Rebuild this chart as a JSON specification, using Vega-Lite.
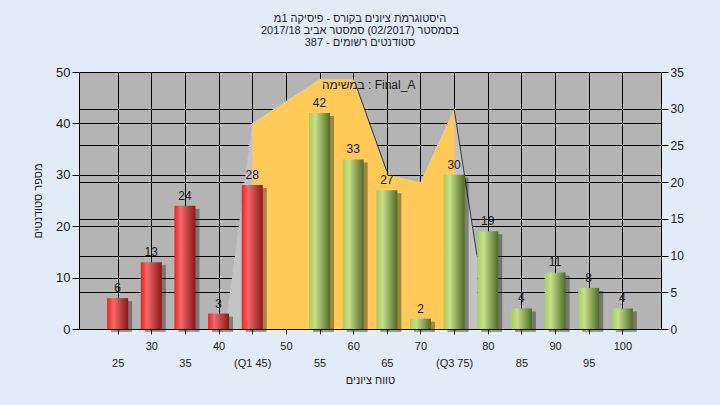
{
  "$schema": "https://vega.github.io/schema/vega-lite/v6.json",
  "width": 582,
  "height": 257,
  "autosize": {"type": "none"},
  "padding": {"left": 79, "top": 72, "right": 59, "bottom": 76},
  "background": "#e2ecf8",
  "config": {
    "view": {"fill": "#b4b4b4", "stroke": "#000000", "strokeWidth": 1},
    "font": "Liberation Sans",
    "axis": {"gridColor": "#000000", "gridOpacity": 1, "gridWidth": 1, "domainColor": "#000000", "tickColor": "#000000", "labelColor": "#1a1a1a", "titleColor": "#1a1a1a", "titleFontWeight": "normal", "titleFontSize": 11}
  },
  "title": {
    "text": ["היסטוגרמת ציונים בקורס - פיסיקה 1מ", "בסמסטר  (02/2017)  סמסטר אביב 2017/18", "סטודנטים רשומים - 387"],
    "fontSize": 11,
    "fontWeight": "normal",
    "lineHeight": 12,
    "color": "#1c1c3c",
    "anchor": "middle",
    "offset": 18,
    "dx": -10
  },
  "datasets": {
    "bars": [
      {"x": 25, "n": 6, "g": "low"},
      {"x": 30, "n": 13, "g": "low"},
      {"x": 35, "n": 24, "g": "low"},
      {"x": 40, "n": 3, "g": "low"},
      {"x": 45, "n": 28, "g": "low"},
      {"x": 55, "n": 42, "g": "high"},
      {"x": 60, "n": 33, "g": "high"},
      {"x": 65, "n": 27, "g": "high"},
      {"x": 70, "n": 2, "g": "high"},
      {"x": 75, "n": 30, "g": "high"},
      {"x": 80, "n": 19, "g": "high"},
      {"x": 85, "n": 4, "g": "high"},
      {"x": 90, "n": 11, "g": "high"},
      {"x": 95, "n": 8, "g": "high"},
      {"x": 100, "n": 4, "g": "high"}
    ],
    "final": [
      {"x": 45, "v": 28},
      {"x": 50, "v": 31},
      {"x": 55, "v": 34},
      {"x": 60, "v": 34},
      {"x": 65, "v": 21},
      {"x": 70, "v": 20},
      {"x": 75, "v": 30}
    ],
    "side": [
      {"x": 41, "v": 0},
      {"x": 45, "v": 28},
      {"x": 50, "v": 31},
      {"x": 55, "v": 34},
      {"x": 60, "v": 34},
      {"x": 65, "v": 21},
      {"x": 70, "v": 20},
      {"x": 75, "v": 30},
      {"x": 78.4, "v": 10}
    ],
    "edges": [
      {"seg": "a", "x": 60.5, "v": 33},
      {"seg": "a", "x": 65, "v": 21.5},
      {"seg": "b", "x": 75, "v": 30},
      {"seg": "b", "x": 78.4, "v": 10}
    ],
    "series": [
      {"x": 62.3, "v": 33.2, "label": "במשימה : Final_A"}
    ]
  },
  "encoding": {
    "x": {
      "field": "x",
      "type": "quantitative",
      "scale": {"domain": [20, 105], "nice": false, "zero": false},
      "axis": {
        "values": [25, 30, 35, 40, 45, 50, 55, 60, 65, 70, 75, 80, 85, 90, 95, 100],
        "title": "טווח ציונים",
        "grid": true,
        "tickSize": 5,
        "labelFontSize": 11,
        "labelPadding": 6,
        "labelBaseline": "top",
        "labelLineHeight": 17,
        "labelOverlap": false,
        "labelBound": false,
        "labelFlush": false,
        "labelExpr": "datum.value == 45 ? ['', '(Q1 45)'] : datum.value == 75 ? ['', '(Q3 75)'] : (datum.value % 10 == 0 ? datum.label : ['', datum.label])",
        "titlePadding": 6
      }
    }
  },
  "layer": [
    {
      "encoding": {
        "y": {
          "field": "v",
          "type": "quantitative",
          "scale": {"domain": [0, 35], "nice": false},
          "axis": {"orient": "right", "values": [0, 5, 10, 15, 20, 25, 30, 35], "title": null, "grid": true, "tickSize": 7, "labelFontSize": 12, "labelPadding": 2}
        }
      },
      "layer": [
        {"data": {"name": "side"}, "mark": {"type": "area", "color": "#c3c3c3", "opacity": 1}},
        {"data": {"name": "final"}, "mark": {"type": "area", "color": "#ffca58", "opacity": 1}},
        {"data": {"name": "edges"}, "mark": {"type": "line", "color": "#3a3a3a", "strokeWidth": 1}, "encoding": {"detail": {"field": "seg"}}},
        {
          "data": {"name": "series"},
          "mark": {"type": "text", "fontSize": 12, "color": "#1a1a1a", "baseline": "middle", "align": "center"},
          "encoding": {"text": {"field": "label", "type": "nominal"}}
        }
      ]
    },
    {
      "layer": [
        {
          "data": {"name": "bars"},
          "mark": {"type": "bar", "size": 21, "color": "#000000", "opacity": 0.35, "xOffset": 4, "yOffset": 3},
          "encoding": {"y": {"field": "n", "type": "quantitative", "scale": {"domain": [0, 50], "nice": false}, "axis": {"orient": "left", "values": [0, 10, 20, 30, 40, 50], "title": "מספר סטודנטים", "grid": true, "tickSize": 7, "labelFontSize": 13, "labelPadding": 2, "titlePadding": 12}}}
        },
        {
          "data": {"values": [{}]},
          "mark": {"type": "rule", "color": "#000000", "strokeWidth": 1},
          "encoding": {"x": {"datum": 20}, "x2": {"datum": 105}, "y": {"datum": 0}}
        },
        {
          "data": {"name": "bars"},
          "transform": [{"filter": "datum.g == 'low'"}],
          "mark": {"type": "bar", "size": 21, "color": {"gradient": "linear", "x1": 0, "y1": 0, "x2": 1, "y2": 0, "stops": [{"offset": 0, "color": "#ff1a1a"}, {"offset": 0.3, "color": "#f06a6a"}, {"offset": 1, "color": "#8a1818"}]}},
          "encoding": {"y": {"field": "n", "type": "quantitative"}}
        },
        {
          "data": {"name": "bars"},
          "transform": [{"filter": "datum.g == 'high'"}],
          "mark": {"type": "bar", "size": 21, "color": {"gradient": "linear", "x1": 0, "y1": 0, "x2": 1, "y2": 0, "stops": [{"offset": 0, "color": "#a4cf58"}, {"offset": 0.3, "color": "#c6e08a"}, {"offset": 1, "color": "#506a28"}]}},
          "encoding": {"y": {"field": "n", "type": "quantitative"}}
        },
        {
          "data": {"name": "bars"},
          "mark": {"type": "text", "fontSize": 12, "color": "#1a1a1a", "baseline": "alphabetic", "dy": -6},
          "encoding": {"y": {"field": "n", "type": "quantitative"}, "text": {"field": "n", "type": "quantitative"}}
        }
      ]
    }
  ],
  "resolve": {"scale": {"y": "independent"}}
}
